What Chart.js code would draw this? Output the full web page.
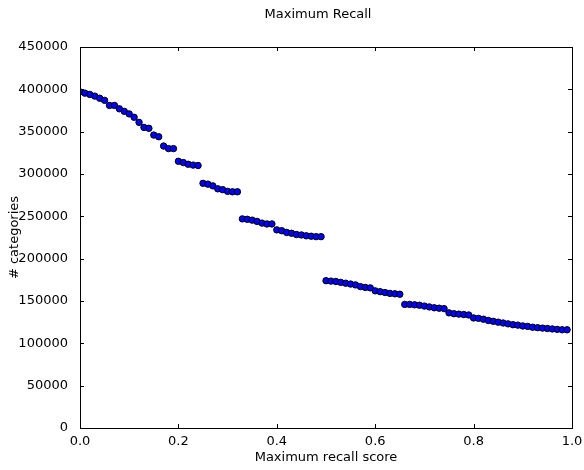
<!DOCTYPE html>
<html>
<head>
<meta charset="utf-8">
<script src="https://cdn.jsdelivr.net/npm/chart.js@4.4.1/dist/chart.umd.min.js"></script>
<style>
  html, body { margin: 0; padding: 0; background: #fff; }
  #wrap { width: 584px; height: 470px; }
</style>
</head>
<body>
<div id="wrap"><canvas id="recallChart" width="584" height="470"></canvas></div>
<script>
// Recall score thresholds (0.00 .. 0.99)
const recallScores = [
	0.00, 0.01, 0.02, 0.03, 0.04, 0.05, 0.06, 0.07, 0.08, 0.09,
	0.10, 0.11, 0.12, 0.13, 0.14, 0.15, 0.16, 0.17, 0.18, 0.19,
	0.20, 0.21, 0.22, 0.23, 0.24, 0.25, 0.26, 0.27, 0.28, 0.29,
	0.30, 0.31, 0.32, 0.33, 0.34, 0.35, 0.36, 0.37, 0.38, 0.39,
	0.40, 0.41, 0.42, 0.43, 0.44, 0.45, 0.46, 0.47, 0.48, 0.49,
	0.50, 0.51, 0.52, 0.53, 0.54, 0.55, 0.56, 0.57, 0.58, 0.59,
	0.60, 0.61, 0.62, 0.63, 0.64, 0.65, 0.66, 0.67, 0.68, 0.69,
	0.70, 0.71, 0.72, 0.73, 0.74, 0.75, 0.76, 0.77, 0.78, 0.79,
	0.80, 0.81, 0.82, 0.83, 0.84, 0.85, 0.86, 0.87, 0.88, 0.89,
	0.90, 0.91, 0.92, 0.93, 0.94, 0.95, 0.96, 0.97, 0.98, 0.99
];

// Number of categories at each threshold
const categoryCounts = [
	397000, 395500, 394000, 392000, 389500, 387000, 381000, 381000, 377000, 374000,
	371000, 367000, 361000, 355000, 354000, 346000, 344000, 333000, 330000, 330000,
	315000, 313500, 311500, 310500, 310000, 289000, 288000, 286000, 282500, 281500,
	279500, 279000, 279000, 247000, 246500, 245500, 244000, 242000, 241000, 241000,
	234000, 233000, 231000, 230000, 228500, 228000, 227000, 226500, 226000, 226000,
	174000, 173500, 173000, 172000, 171000, 170000, 169000, 167000, 166000, 165500,
	162000, 161000, 160000, 159000, 158500, 158000, 146000, 146000, 145500, 145000,
	144000, 143000, 142000, 141500, 141000, 136000, 135000, 134500, 134000, 133500,
	130000, 129500, 128500, 127000, 126000, 125000, 124000, 123000, 122000, 121500,
	120500, 120000, 119000, 118500, 118000, 117500, 117000, 116500, 116000, 116000
];

const xTicks = [0.0, 0.2, 0.4, 0.6, 0.8, 1.0];
const yTicks = [0, 50000, 100000, 150000, 200000, 250000, 300000, 350000, 400000, 450000];

const FONT = 'DejaVu Sans';

// Draws the frame, inward tick marks on all sides and the title
const framePlugin = {
	id: 'frame',
	afterDraw: function(chart) {
		const ctx = chart.ctx;
		const area = chart.chartArea;
		const xs = chart.scales.x;
		const ys = chart.scales.y;
		ctx.save();
		ctx.strokeStyle = '#000';
		ctx.lineWidth = 1;
		ctx.beginPath();
		xTicks.forEach(function(v) {
			const px = Math.round(xs.getPixelForValue(v)) + 0.5;
			ctx.moveTo(px, area.bottom); ctx.lineTo(px, area.bottom - 4);
			ctx.moveTo(px, area.top); ctx.lineTo(px, area.top + 4);
		});
		yTicks.forEach(function(v) {
			const py = Math.round(ys.getPixelForValue(v)) + 0.5;
			ctx.moveTo(area.left, py); ctx.lineTo(area.left + 4, py);
			ctx.moveTo(area.right, py); ctx.lineTo(area.right - 4, py);
		});
		ctx.stroke();
		ctx.strokeRect(Math.round(area.left) + 0.5, Math.round(area.top) + 0.5,
			Math.round(area.right - area.left), Math.round(area.bottom - area.top));

		ctx.fillStyle = '#000';
		ctx.font = '13px "' + FONT + '"';
		ctx.textAlign = 'center';
		ctx.textBaseline = 'middle';
		ctx.fillText('Maximum Recall', 318, 15);
		ctx.restore();
	}
};

new Chart(document.getElementById('recallChart'), {
	type: 'scatter',
	data: {
		datasets: [{
			label: 'Maximum Recall',
			data: recallScores.map(function(x, i) { return { x: x, y: categoryCounts[i] }; }),
			backgroundColor: '#0000ff',
			borderColor: '#000000',
			borderWidth: 1,
			pointRadius: 3.2,
			pointHoverRadius: 3.2
		}]
	},
	options: {
		responsive: false,
		animation: false,
		layout: { padding: { top: 47, right: 12, left: 0, bottom: 0 } },
		plugins: {
			legend: { display: false },
			tooltip: { enabled: false },
			title: { display: false }
		},
		scales: {
			x: {
				type: 'linear',
				min: 0,
				max: 1,
				afterBuildTicks: function(scale) {
					scale.ticks = xTicks.map(function(v) { return { value: v }; });
				},
				afterFit: function(scale) { scale.height = 42; },
				grid: { display: false },
				border: { display: false },
				ticks: {
					color: '#000',
					padding: -2,
					maxRotation: 0,
					font: { family: FONT, size: 13 },
					callback: function(v) { return v.toFixed(1); }
				},
				title: {
					display: true,
					text: 'Maximum recall score',
					color: '#000',
					padding: { top: 0, bottom: 5 },
					font: { family: FONT, size: 13 }
				}
			},
			y: {
				type: 'linear',
				min: 0,
				max: 450000,
				afterBuildTicks: function(scale) {
					scale.ticks = yTicks.map(function(v) { return { value: v }; });
				},
				afterFit: function(scale) { scale.width = 80; },
				grid: { display: false },
				border: { display: false },
				ticks: {
					color: '#000',
					padding: 4,
					font: { family: FONT, size: 13 },
					callback: function(v) { return String(v); }
				},
				title: {
					display: true,
					text: '# categories',
					color: '#000',
					padding: { top: 7, bottom: 0 },
					font: { family: FONT, size: 13 }
				}
			}
		}
	},
	plugins: [framePlugin]
});
</script>
</body>
</html>
